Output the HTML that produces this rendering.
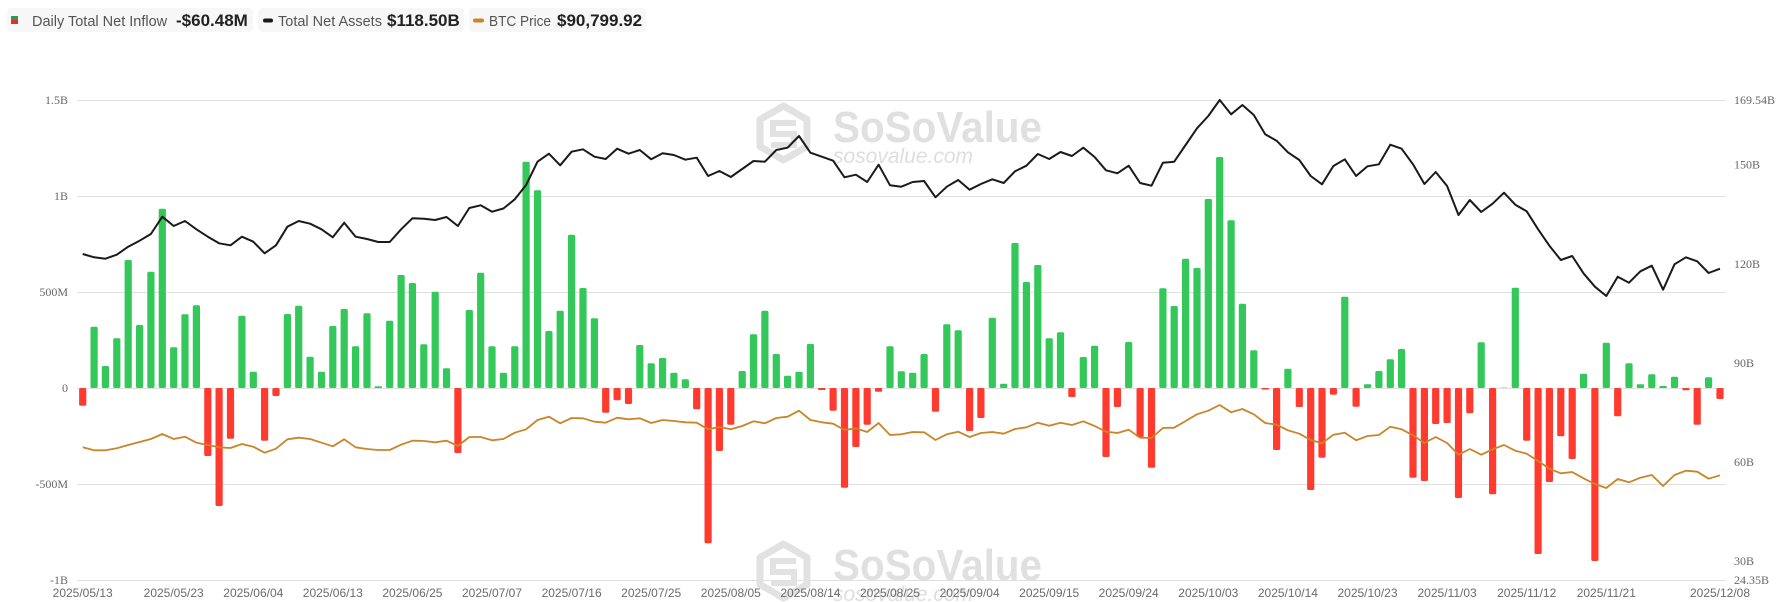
<!DOCTYPE html>
<html><head><meta charset="utf-8"><style>
html,body{margin:0;padding:0;background:#fff;}
svg{display:block;}
.g{fill:#34c759}.r{fill:#ff3b30}
.ax{font-family:"Liberation Serif",serif;font-size:12px;fill:#666}
.xl{font-family:"Liberation Sans",sans-serif;font-size:12px;fill:#6b6b6b}
.lg{font-family:"Liberation Sans",sans-serif;font-size:14.5px;fill:#555}
.lv{font-family:"Liberation Sans",sans-serif;font-size:17px;font-weight:bold;fill:#222}
</style></head><body>
<svg width="1782" height="602" viewBox="0 0 1782 602" xmlns="http://www.w3.org/2000/svg">
<rect width="1782" height="602" fill="#fff"/>
<!-- legend -->
<rect x="7" y="8" width="246" height="24" rx="4" fill="#f7f7f8"/>
<rect x="258" y="8" width="206" height="24" rx="4" fill="#f7f7f8"/>
<rect x="469" y="8" width="177" height="24" rx="4" fill="#f7f7f8"/>
<rect x="11" y="16" width="7" height="4" fill="#2e9a4a"/>
<rect x="11" y="20" width="7" height="4" fill="#e0302a"/>
<text x="32" y="26" class="lg">Daily Total Net Inflow</text>
<text x="176" y="26" class="lv">-$60.48M</text>
<rect x="263" y="18.5" width="10" height="4" rx="2" fill="#1a1a1a"/>
<text x="278" y="26" class="lg">Total Net Assets</text>
<text x="387" y="26" class="lv">$118.50B</text>
<rect x="473" y="18.5" width="11" height="4" rx="2" fill="#c98527"/>
<text x="489" y="26" class="lg" textLength="62" lengthAdjust="spacingAndGlyphs">BTC Price</text>
<text x="557" y="26" class="lv">$90,799.92</text>
<!-- watermarks -->
<g id="wm" fill="none" stroke="#e2e2e2">
<path d="M783.5 106 L807 119.5 L807 146.5 L783.5 160 L760 146.5 L760 119.5 Z" stroke-width="7" stroke-linejoin="round"/>
<path d="M796 123 L773 123 L773 134 L794 134 L794 145 L771 145" stroke-width="6"/>
</g>
<text x="833" y="142" font-family="Liberation Sans, sans-serif" font-weight="bold" font-size="44" fill="#e0e0e0" textLength="209" lengthAdjust="spacingAndGlyphs">SoSoValue</text>
<text x="833" y="163" font-family="Liberation Sans, sans-serif" font-style="italic" font-size="21" fill="#dedede" textLength="140" lengthAdjust="spacingAndGlyphs">sosovalue.com</text>
<g transform="translate(0,438)">
<g fill="none" stroke="#e2e2e2">
<path d="M783.5 106 L807 119.5 L807 146.5 L783.5 160 L760 146.5 L760 119.5 Z" stroke-width="7" stroke-linejoin="round"/>
<path d="M796 123 L773 123 L773 134 L794 134 L794 145 L771 145" stroke-width="6"/>
</g>
<text x="833" y="142" font-family="Liberation Sans, sans-serif" font-weight="bold" font-size="44" fill="#e0e0e0" textLength="209" lengthAdjust="spacingAndGlyphs">SoSoValue</text>
<text x="833" y="163" font-family="Liberation Sans, sans-serif" font-style="italic" font-size="21" fill="#dedede" textLength="140" lengthAdjust="spacingAndGlyphs">sosovalue.com</text>
</g>
<!-- grid -->
<g stroke="#e0e0e0" stroke-width="1">
<line x1="77" y1="100.5" x2="1726" y2="100.5"/>
<line x1="77" y1="196.5" x2="1726" y2="196.5"/>
<line x1="77" y1="292.5" x2="1726" y2="292.5"/>
<line x1="77" y1="388.5" x2="1726" y2="388.5"/>
<line x1="77" y1="484.5" x2="1726" y2="484.5"/>
<line x1="77" y1="580.5" x2="1726" y2="580.5"/>
</g>
<!-- left axis -->
<g class="ax" text-anchor="end">
<text x="68" y="104">1.5B</text>
<text x="68" y="200">1B</text>
<text x="68" y="296">500M</text>
<text x="68" y="392">0</text>
<text x="68" y="488">-500M</text>
<text x="68" y="584">-1B</text>
</g>
<!-- right axis -->
<g class="ax">
<text x="1734" y="104">169.54B</text>
<text x="1734" y="168.5">150B</text>
<text x="1734" y="268">120B</text>
<text x="1734" y="367">90B</text>
<text x="1734" y="466">60B</text>
<text x="1734" y="565">30B</text>
<text x="1734" y="584">24.35B</text>
</g>
<!-- x labels -->
<g class="xl" text-anchor="middle">
<text x="82.7" y="597">2025/05/13</text>
<text x="173.7" y="597">2025/05/23</text>
<text x="253.3" y="597">2025/06/04</text>
<text x="332.8" y="597">2025/06/13</text>
<text x="412.4" y="597">2025/06/25</text>
<text x="492" y="597">2025/07/07</text>
<text x="571.6" y="597">2025/07/16</text>
<text x="651.2" y="597">2025/07/25</text>
<text x="730.8" y="597">2025/08/05</text>
<text x="810.4" y="597">2025/08/14</text>
<text x="890" y="597">2025/08/25</text>
<text x="969.6" y="597">2025/09/04</text>
<text x="1049.2" y="597">2025/09/15</text>
<text x="1128.7" y="597">2025/09/24</text>
<text x="1208.3" y="597">2025/10/03</text>
<text x="1287.9" y="597">2025/10/14</text>
<text x="1367.5" y="597">2025/10/23</text>
<text x="1447.1" y="597">2025/11/03</text>
<text x="1526.7" y="597">2025/11/12</text>
<text x="1606.3" y="597">2025/11/21</text>
<text x="1720" y="597">2025/12/08</text>
</g>
<!-- bars -->
<g>
<rect class="r" x="79.1" y="388" width="7.2" height="17.7" rx="1.5"/>
<rect class="g" x="90.5" y="326.7" width="7.2" height="61.3" rx="1.5"/>
<rect class="g" x="101.8" y="366" width="7.2" height="22" rx="1.5"/>
<rect class="g" x="113.2" y="338.3" width="7.2" height="49.7" rx="1.5"/>
<rect class="g" x="124.6" y="260" width="7.2" height="128" rx="1.5"/>
<rect class="g" x="136" y="325" width="7.2" height="63" rx="1.5"/>
<rect class="g" x="147.3" y="271.7" width="7.2" height="116.3" rx="1.5"/>
<rect class="g" x="158.7" y="208.7" width="7.2" height="179.3" rx="1.5"/>
<rect class="g" x="170.1" y="347.3" width="7.2" height="40.7" rx="1.5"/>
<rect class="g" x="181.4" y="314.3" width="7.2" height="73.7" rx="1.5"/>
<rect class="g" x="192.8" y="305.3" width="7.2" height="82.7" rx="1.5"/>
<rect class="r" x="204.2" y="388" width="7.2" height="68" rx="1.5"/>
<rect class="r" x="215.5" y="388" width="7.2" height="118" rx="1.5"/>
<rect class="r" x="226.9" y="388" width="7.2" height="50.7" rx="1.5"/>
<rect class="g" x="238.3" y="315.7" width="7.2" height="72.3" rx="1.5"/>
<rect class="g" x="249.7" y="371.7" width="7.2" height="16.3" rx="1.5"/>
<rect class="r" x="261" y="388" width="7.2" height="52.7" rx="1.5"/>
<rect class="r" x="272.4" y="388" width="7.2" height="8" rx="1.5"/>
<rect class="g" x="283.8" y="314" width="7.2" height="74" rx="1.5"/>
<rect class="g" x="295.1" y="305.7" width="7.2" height="82.3" rx="1.5"/>
<rect class="g" x="306.5" y="356.7" width="7.2" height="31.3" rx="1.5"/>
<rect class="g" x="317.9" y="371.7" width="7.2" height="16.3" rx="1.5"/>
<rect class="g" x="329.2" y="326" width="7.2" height="62" rx="1.5"/>
<rect class="g" x="340.6" y="309" width="7.2" height="79" rx="1.5"/>
<rect class="g" x="352" y="346.3" width="7.2" height="41.7" rx="1.5"/>
<rect class="g" x="363.4" y="313.3" width="7.2" height="74.7" rx="1.5"/>
<rect class="g" x="374.7" y="386.3" width="7.2" height="1.7"/>
<rect class="g" x="386.1" y="320.7" width="7.2" height="67.3" rx="1.5"/>
<rect class="g" x="397.5" y="275" width="7.2" height="113" rx="1.5"/>
<rect class="g" x="408.8" y="283" width="7.2" height="105" rx="1.5"/>
<rect class="g" x="420.2" y="344.3" width="7.2" height="43.7" rx="1.5"/>
<rect class="g" x="431.6" y="291.7" width="7.2" height="96.3" rx="1.5"/>
<rect class="g" x="442.9" y="368.3" width="7.2" height="19.7" rx="1.5"/>
<rect class="r" x="454.3" y="388" width="7.2" height="65" rx="1.5"/>
<rect class="g" x="465.7" y="310" width="7.2" height="78" rx="1.5"/>
<rect class="g" x="477.1" y="272.7" width="7.2" height="115.3" rx="1.5"/>
<rect class="g" x="488.4" y="346.3" width="7.2" height="41.7" rx="1.5"/>
<rect class="g" x="499.8" y="372.7" width="7.2" height="15.3" rx="1.5"/>
<rect class="g" x="511.2" y="346.3" width="7.2" height="41.7" rx="1.5"/>
<rect class="g" x="522.5" y="161.7" width="7.2" height="226.3" rx="1.5"/>
<rect class="g" x="533.9" y="190.3" width="7.2" height="197.7" rx="1.5"/>
<rect class="g" x="545.3" y="331" width="7.2" height="57" rx="1.5"/>
<rect class="g" x="556.6" y="310.7" width="7.2" height="77.3" rx="1.5"/>
<rect class="g" x="568" y="234.7" width="7.2" height="153.3" rx="1.5"/>
<rect class="g" x="579.4" y="288" width="7.2" height="100" rx="1.5"/>
<rect class="g" x="590.8" y="318.3" width="7.2" height="69.7" rx="1.5"/>
<rect class="r" x="602.1" y="388" width="7.2" height="24.7" rx="1.5"/>
<rect class="r" x="613.5" y="388" width="7.2" height="12.3" rx="1.5"/>
<rect class="r" x="624.9" y="388" width="7.2" height="16" rx="1.5"/>
<rect class="g" x="636.2" y="345" width="7.2" height="43" rx="1.5"/>
<rect class="g" x="647.6" y="363.3" width="7.2" height="24.7" rx="1.5"/>
<rect class="g" x="659" y="358" width="7.2" height="30" rx="1.5"/>
<rect class="g" x="670.3" y="372.7" width="7.2" height="15.3" rx="1.5"/>
<rect class="g" x="681.7" y="379.3" width="7.2" height="8.7" rx="1.5"/>
<rect class="r" x="693.1" y="388" width="7.2" height="21.3" rx="1.5"/>
<rect class="r" x="704.5" y="388" width="7.2" height="155.3" rx="1.5"/>
<rect class="r" x="715.8" y="388" width="7.2" height="63" rx="1.5"/>
<rect class="r" x="727.2" y="388" width="7.2" height="36.7" rx="1.5"/>
<rect class="g" x="738.6" y="371" width="7.2" height="17" rx="1.5"/>
<rect class="g" x="749.9" y="334.3" width="7.2" height="53.7" rx="1.5"/>
<rect class="g" x="761.3" y="310.7" width="7.2" height="77.3" rx="1.5"/>
<rect class="g" x="772.7" y="354" width="7.2" height="34" rx="1.5"/>
<rect class="g" x="784" y="375.7" width="7.2" height="12.3" rx="1.5"/>
<rect class="g" x="795.4" y="371.7" width="7.2" height="16.3" rx="1.5"/>
<rect class="g" x="806.8" y="344" width="7.2" height="44" rx="1.5"/>
<rect class="r" x="818.2" y="388" width="7.2" height="2"/>
<rect class="r" x="829.5" y="388" width="7.2" height="22.7" rx="1.5"/>
<rect class="r" x="840.9" y="388" width="7.2" height="99.7" rx="1.5"/>
<rect class="r" x="852.3" y="388" width="7.2" height="59" rx="1.5"/>
<rect class="r" x="863.6" y="388" width="7.2" height="36.7" rx="1.5"/>
<rect class="r" x="875" y="388" width="7.2" height="3.7" rx="1"/>
<rect class="g" x="886.4" y="346.3" width="7.2" height="41.7" rx="1.5"/>
<rect class="g" x="897.7" y="371.3" width="7.2" height="16.7" rx="1.5"/>
<rect class="g" x="909.1" y="372.7" width="7.2" height="15.3" rx="1.5"/>
<rect class="g" x="920.5" y="354" width="7.2" height="34" rx="1.5"/>
<rect class="r" x="931.9" y="388" width="7.2" height="23.7" rx="1.5"/>
<rect class="g" x="943.2" y="324.3" width="7.2" height="63.7" rx="1.5"/>
<rect class="g" x="954.6" y="330.3" width="7.2" height="57.7" rx="1.5"/>
<rect class="r" x="966" y="388" width="7.2" height="43" rx="1.5"/>
<rect class="r" x="977.3" y="388" width="7.2" height="30" rx="1.5"/>
<rect class="g" x="988.7" y="317.7" width="7.2" height="70.3" rx="1.5"/>
<rect class="g" x="1000.1" y="383.7" width="7.2" height="4.3" rx="1"/>
<rect class="g" x="1011.4" y="243" width="7.2" height="145" rx="1.5"/>
<rect class="g" x="1022.8" y="282" width="7.2" height="106" rx="1.5"/>
<rect class="g" x="1034.2" y="265" width="7.2" height="123" rx="1.5"/>
<rect class="g" x="1045.6" y="338.3" width="7.2" height="49.7" rx="1.5"/>
<rect class="g" x="1056.9" y="332.3" width="7.2" height="55.7" rx="1.5"/>
<rect class="r" x="1068.3" y="388" width="7.2" height="9" rx="1.5"/>
<rect class="g" x="1079.7" y="357" width="7.2" height="31" rx="1.5"/>
<rect class="g" x="1091" y="345.7" width="7.2" height="42.3" rx="1.5"/>
<rect class="r" x="1102.4" y="388" width="7.2" height="69" rx="1.5"/>
<rect class="r" x="1113.8" y="388" width="7.2" height="19" rx="1.5"/>
<rect class="g" x="1125.1" y="342" width="7.2" height="46" rx="1.5"/>
<rect class="r" x="1136.5" y="388" width="7.2" height="49.3" rx="1.5"/>
<rect class="r" x="1147.9" y="388" width="7.2" height="79.7" rx="1.5"/>
<rect class="g" x="1159.3" y="288.3" width="7.2" height="99.7" rx="1.5"/>
<rect class="g" x="1170.6" y="306" width="7.2" height="82" rx="1.5"/>
<rect class="g" x="1182" y="258.7" width="7.2" height="129.3" rx="1.5"/>
<rect class="g" x="1193.4" y="268" width="7.2" height="120" rx="1.5"/>
<rect class="g" x="1204.7" y="199" width="7.2" height="189" rx="1.5"/>
<rect class="g" x="1216.1" y="157" width="7.2" height="231" rx="1.5"/>
<rect class="g" x="1227.5" y="220.3" width="7.2" height="167.7" rx="1.5"/>
<rect class="g" x="1238.8" y="303.7" width="7.2" height="84.3" rx="1.5"/>
<rect class="g" x="1250.2" y="350.3" width="7.2" height="37.7" rx="1.5"/>
<rect class="r" x="1261.6" y="388" width="7.2" height="1.5"/>
<rect class="r" x="1273" y="388" width="7.2" height="62" rx="1.5"/>
<rect class="g" x="1284.3" y="368.7" width="7.2" height="19.3" rx="1.5"/>
<rect class="r" x="1295.7" y="388" width="7.2" height="19" rx="1.5"/>
<rect class="r" x="1307.1" y="388" width="7.2" height="102" rx="1.5"/>
<rect class="r" x="1318.4" y="388" width="7.2" height="69.7" rx="1.5"/>
<rect class="r" x="1329.8" y="388" width="7.2" height="6.7" rx="1.5"/>
<rect class="g" x="1341.2" y="296.7" width="7.2" height="91.3" rx="1.5"/>
<rect class="r" x="1352.5" y="388" width="7.2" height="18.7" rx="1.5"/>
<rect class="g" x="1363.9" y="384.3" width="7.2" height="3.7" rx="1"/>
<rect class="g" x="1375.3" y="371" width="7.2" height="17" rx="1.5"/>
<rect class="g" x="1386.7" y="359.3" width="7.2" height="28.7" rx="1.5"/>
<rect class="g" x="1398" y="349" width="7.2" height="39" rx="1.5"/>
<rect class="r" x="1409.4" y="388" width="7.2" height="89.7" rx="1.5"/>
<rect class="r" x="1420.8" y="388" width="7.2" height="93" rx="1.5"/>
<rect class="r" x="1432.1" y="388" width="7.2" height="36" rx="1.5"/>
<rect class="r" x="1443.5" y="388" width="7.2" height="35" rx="1.5"/>
<rect class="r" x="1454.9" y="388" width="7.2" height="110" rx="1.5"/>
<rect class="r" x="1466.2" y="388" width="7.2" height="25.3" rx="1.5"/>
<rect class="g" x="1477.6" y="342.3" width="7.2" height="45.7" rx="1.5"/>
<rect class="r" x="1489" y="388" width="7.2" height="106.3" rx="1.5"/>
<rect fill="#bfe8c9" x="1500.4" y="387" width="7.2" height="1"/>
<rect class="g" x="1511.7" y="287.7" width="7.2" height="100.3" rx="1.5"/>
<rect class="r" x="1523.1" y="388" width="7.2" height="52.7" rx="1.5"/>
<rect class="r" x="1534.5" y="388" width="7.2" height="166" rx="1.5"/>
<rect class="r" x="1545.8" y="388" width="7.2" height="94" rx="1.5"/>
<rect class="r" x="1557.2" y="388" width="7.2" height="48.3" rx="1.5"/>
<rect class="r" x="1568.6" y="388" width="7.2" height="71" rx="1.5"/>
<rect class="g" x="1579.9" y="373.7" width="7.2" height="14.3" rx="1.5"/>
<rect class="r" x="1591.3" y="388" width="7.2" height="173" rx="1.5"/>
<rect class="g" x="1602.7" y="342.7" width="7.2" height="45.3" rx="1.5"/>
<rect class="r" x="1614.1" y="388" width="7.2" height="28.3" rx="1.5"/>
<rect class="g" x="1625.4" y="363.3" width="7.2" height="24.7" rx="1.5"/>
<rect class="g" x="1636.8" y="384.3" width="7.2" height="3.7" rx="1"/>
<rect class="g" x="1648.2" y="374.3" width="7.2" height="13.7" rx="1.5"/>
<rect class="g" x="1659.5" y="386" width="7.2" height="2"/>
<rect class="g" x="1670.9" y="376.7" width="7.2" height="11.3" rx="1.5"/>
<rect class="r" x="1682.3" y="388" width="7.2" height="2.3" rx="1"/>
<rect class="r" x="1693.6" y="388" width="7.2" height="36.7" rx="1.5"/>
<rect class="g" x="1705" y="377.3" width="7.2" height="10.7" rx="1.5"/>
<rect class="r" x="1716.4" y="388" width="7.2" height="11" rx="1.5"/>
</g>
<!-- BTC price line -->
<polyline fill="none" stroke="#c98527" stroke-width="1.8" stroke-linejoin="round" points="82.7,447.3 94.1,450.3 105.4,450.3 116.8,448.3 128.2,445 139.6,442 150.9,439 162.3,434 173.7,439 185,436.7 196.4,442.7 207.8,445 219.1,447.3 230.5,448 241.9,444 253.3,446.7 264.6,452.7 276,448.7 287.4,439.3 298.7,437.7 310.1,439 321.5,442.7 332.8,446.3 344.2,439.3 355.6,447.3 367,449 378.3,450 389.7,450 401.1,444.7 412.4,440.7 423.8,441 435.2,442.3 446.5,440.7 457.9,446 469.3,437 480.7,437 492,440.3 503.4,439 514.8,432.7 526.1,429.3 537.5,420 548.9,416.7 560.2,423.3 571.6,418 583,418.3 594.4,421.7 605.7,422.7 617.1,417.7 628.5,419.3 639.8,418.3 651.2,423 662.6,420 673.9,421 685.3,422.3 696.7,422.7 708.1,429.3 719.4,427 730.8,429.3 742.2,426 753.5,421.3 764.9,423.3 776.3,418 787.6,416.7 799,410.7 810.4,420 821.8,422.3 833.1,423.7 844.5,430 855.9,428.3 867.2,432 878.6,423 890,435 901.3,434.3 912.7,432 924.1,432.3 935.5,440 946.8,434.3 958.2,431.7 969.6,437 980.9,433 992.3,432 1003.7,433.7 1015,429 1026.4,427.3 1037.8,422.7 1049.2,425.7 1060.5,422.7 1071.9,425 1083.3,421.3 1094.6,426 1106,431.7 1117.4,433 1128.7,429.7 1140.1,437.7 1151.5,438 1162.9,428 1174.2,427.7 1185.6,421 1197,414.3 1208.3,410.7 1219.7,405 1231.1,412.3 1242.4,409 1253.8,414.3 1265.2,423 1276.6,424.7 1287.9,430.3 1299.3,433.7 1310.7,440 1322,443.3 1333.4,434.7 1344.8,432.7 1356.1,440.3 1367.5,436 1378.9,435 1390.3,426.7 1401.6,429.3 1413,435.3 1424.4,443 1435.7,437 1447.1,443 1458.5,454.7 1469.8,449 1481.2,454.7 1492.6,449.3 1504,445 1515.3,450.7 1526.7,453.7 1538.1,461 1549.4,468.7 1560.8,473.3 1572.2,472 1583.5,478.3 1594.9,484 1606.3,488 1617.7,479 1629,482.3 1640.4,477.7 1651.8,475 1663.1,486 1674.5,475 1685.9,470.7 1697.2,471.7 1708.6,478.7 1720,475.3"/>
<!-- Total net assets line -->
<polyline fill="none" stroke="#1a1a1a" stroke-width="2" stroke-linejoin="round" points="82.7,254 94.1,257.3 105.4,258.7 116.8,254.7 128.2,246.7 139.6,240.7 150.9,234 162.3,216.7 173.7,226 185,221 196.4,229.3 207.8,236.7 219.1,243.3 230.5,245.3 241.9,236.7 253.3,241.7 264.6,253.3 276,245.3 287.4,226.7 298.7,221 310.1,223.7 321.5,229.3 332.8,237.3 344.2,222.7 355.6,236.7 367,239 378.3,242 389.7,242 401.1,229.3 412.4,218.3 423.8,218.7 435.2,220 446.5,217 457.9,226 469.3,208 480.7,205.3 492,211.7 503.4,208.5 514.8,199.3 526.1,185 537.5,161.7 548.9,153.7 560.2,165.3 571.6,151.7 583,149.3 594.4,156.7 605.7,159 617.1,148.7 628.5,153.7 639.8,150 651.2,159.3 662.6,153.3 673.9,155 685.3,159.7 696.7,157.7 708.1,176 719.4,171 730.8,177 742.2,169 753.5,161 764.9,161.7 776.3,150 787.6,147.7 799,136 810.4,152.7 821.8,156.7 833.1,160.7 844.5,177.3 855.9,174.7 867.2,182 878.6,164.7 890,185.3 901.3,186.7 912.7,182 924.1,181 935.5,197.3 946.8,186.7 958.2,180 969.6,189.7 980.9,184 992.3,179.3 1003.7,183 1015,171.3 1026.4,165.7 1037.8,154 1049.2,159 1060.5,152 1071.9,156 1083.3,147.7 1094.6,157 1106,170.3 1117.4,173.3 1128.7,165.7 1140.1,183 1151.5,185.7 1162.9,162.7 1174.2,161.7 1185.6,145 1197,128.3 1208.3,116 1219.7,100 1231.1,114.3 1242.4,105 1253.8,115 1265.2,134.3 1276.6,140.7 1287.9,152.3 1299.3,160 1310.7,176 1322,184.3 1333.4,166 1344.8,159.3 1356.1,176 1367.5,166.3 1378.9,164.3 1390.3,144.7 1401.6,148.7 1413,164.3 1424.4,184 1435.7,172 1447.1,186 1458.5,215 1469.8,200 1481.2,212 1492.6,203.7 1504,192.7 1515.3,204.7 1526.7,211.3 1538.1,229.3 1549.4,245.7 1560.8,260 1572.2,256 1583.5,273.3 1594.9,286.7 1606.3,296 1617.7,276.7 1629,282.7 1640.4,271.3 1651.8,265.7 1663.1,289.7 1674.5,264.3 1685.9,257.3 1697.2,261.3 1708.6,273 1720,268.7"/>
</svg>
</body></html>
